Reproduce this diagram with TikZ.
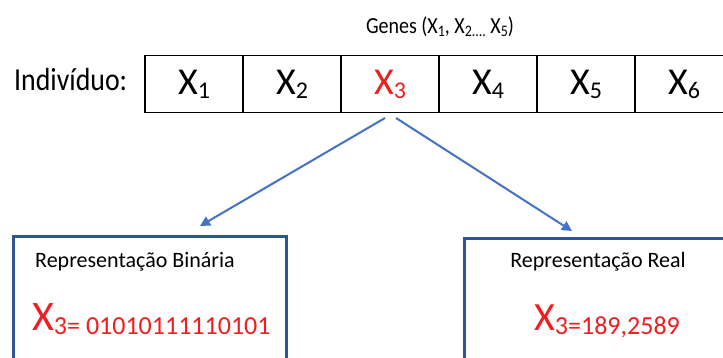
\documentclass[tikz,border=0pt]{standalone}
\usepackage{fontspec}
\setmainfont{Carlito}
\newfontfamily\condfont{Carlito}[FakeStretch=0.87]
\usetikzlibrary{arrows.meta,calc}
\definecolor{arrowblue}{HTML}{4472C4}
\definecolor{boxblue}{HTML}{2F5597}
\definecolor{genered}{HTML}{F01E1E}
\newcommand{\fsz}[1]{\fontsize{#1}{#1}\selectfont}
\newcommand{\gsub}[1]{X\raisebox{-4pt}{\fsz{24}#1}}
\tikzset{
  cell/.style={draw=black, line width=1.2pt, minimum width=98pt, minimum height=57pt, inner sep=0pt, font=\fsz{38}},
  repbox/.style={draw=boxblue, line width=3pt, inner sep=0pt},
  conn/.style={draw=arrowblue, line width=2pt, -{Triangle[length=10pt,width=10pt]}},
  lbl/.style={inner sep=0pt, font=\fsz{22}}
}
\begin{document}
\begin{tikzpicture}[x=1pt,y=-1pt]
\useasboundingbox (0,0) rectangle (723,358);
\clip (0,0) rectangle (723,358);
\fill[white] (0,0) rectangle (723,358);
% title
\node[inner sep=0pt, anchor=base, font=\condfont\fsz{23}] (genes) at (440,34) {Genes (X\raisebox{-0.12em}{\fsz{16}1}, X\raisebox{-0.12em}{\fsz{16}2....} X\raisebox{-0.12em}{\fsz{16}5})};
\node[inner sep=0pt, anchor=base west, font=\condfont\fsz{32}] (ind) at (14,91) {Indivíduo:};
% cells
\node[cell] (c1) at (194,84) {\gsub{1}};
\node[cell] (c2) at (292,84) {\gsub{2}};
\node[cell, text=genered] (c3) at (390,84) {\gsub{3}};
\node[cell] (c4) at (488,84) {\gsub{4}};
\node[cell] (c5) at (586,84) {\gsub{5}};
\node[cell] (c6) at (684,84) {\gsub{6}};
% boxes
\node[repbox, minimum width=273pt, minimum height=170pt, anchor=north west] (bin) at (12,235) {};
\node[repbox, minimum width=270pt, minimum height=170pt, anchor=north west] (real) at (463,237) {};
% texts inside boxes
\node[lbl, anchor=base west] (bint) at (35,268) {Representação Binária};
\node[inner sep=0pt, anchor=base west, text=genered] (binv) at (32,330) {{\fsz{42}X}\raisebox{-4pt}{\fsz{26}3= 01010111110101}};
\node[lbl, anchor=base] (realt) at (598,268) {Representação Real};
\node[inner sep=0pt, anchor=base west, text=genered] (realv) at (534,330) {{\fsz{40}X}\raisebox{-4pt}{\fsz{26}3=189,2589}};
% connectors
\coordinate (s1) at (385,118);
\coordinate (s2) at (396,118);
\coordinate (e1) at (200,226);
\coordinate (e2) at (572,231);
\draw[conn] (s1) -- (e1);
\draw[conn] (s2) -- (e2);
\end{tikzpicture}
\end{document}
